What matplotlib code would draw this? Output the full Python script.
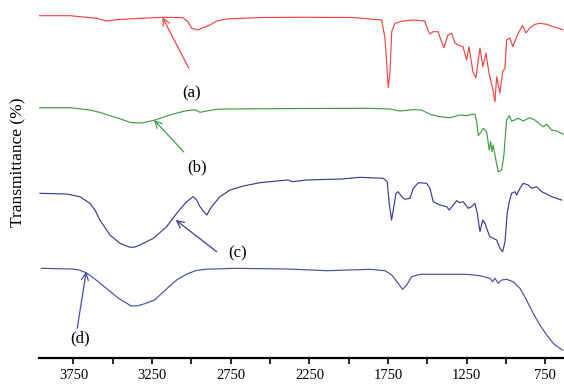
import matplotlib
matplotlib.use("Agg")
import matplotlib.pyplot as plt
import numpy as np

# ---- data (wavenumber cm-1, stacked transmittance, arbitrary units)
wn_a = [3967, 3772, 3603, 3539, 3475, 3327, 3181, 3054, 3022, 2999, 2959, 2927, 2882, 2840, 2776,
        2565, 2310, 1973, 1865, 1791, 1770, 1749, 1738, 1727, 1707, 1656, 1592, 1516, 1497, 1484,
        1465, 1433, 1410, 1395, 1370, 1346, 1325, 1306, 1274, 1251, 1236, 1211, 1192, 1166, 1147,
        1128, 1109, 1086, 1071, 1060, 1039, 1022, 1007, 997, 976, 957, 933, 912, 895, 874, 849,
        817, 785, 742, 702, 671, 639]
t_a = [342.3, 342.3, 339.7, 337, 338.3, 339.7, 340.7, 340.3, 336.3, 329.7, 328, 330.3, 333, 337, 339,
       340.5, 340.7, 340.5, 339, 338, 320, 270.3, 286, 326.3, 334.7, 337, 338, 337, 328, 324,
       326.3, 326.3, 316.3, 310.3, 323, 324.7, 315, 313, 311.3, 298, 311.3, 286.3, 280, 310, 291.3,
       305, 285, 270, 256.3, 281.3, 265, 286.3, 290, 318, 320, 311.3, 321.3, 328, 332.3, 325, 330,
       333.7, 334.7, 333.7, 331.3, 330, 328]

wn_b = [3967, 3772, 3645, 3580, 3518, 3450, 3391, 3350, 3306, 3270, 3232, 3185, 3137, 3080, 3031,
        2978, 2946, 2903, 2840, 2768, 2310, 1866, 1738, 1675, 1590, 1537, 1484, 1421, 1357, 1293,
        1251, 1219, 1198, 1187, 1177, 1166, 1145, 1124, 1107, 1098, 1090, 1082, 1065, 1050, 1028,
        1014, 997, 980, 965, 944, 923, 891, 853, 817, 785, 764, 742, 711, 679, 637]
t_b = [250.3, 250.3, 248, 245.5, 242.3, 239, 235.7, 235, 235.3, 236.5, 238, 240.5, 243, 245.5, 247.3,
       248.3, 245.7, 247, 248.7, 249, 249.5, 249.7, 249, 247, 248.3, 248, 243.7, 241.3, 240.3, 243,
       242.3, 243.7, 243.7, 236.3, 222.3, 224.7, 229.7, 226.3, 208, 216.3, 206.3, 213, 198, 186.3, 188,
       203, 238, 242.3, 237, 238, 239.7, 237, 240.3, 238, 233.7, 231.3, 233.7, 228, 227, 223.7]

wn_c = [3963, 3793, 3709, 3645, 3610, 3582, 3518, 3480, 3454, 3391, 3360, 3327, 3243, 3200, 3158,
        3094, 3031, 2989, 2967, 2946, 2903, 2872, 2819, 2755, 2671, 2565, 2388, 2355, 2273, 2045,
        1929, 1781, 1756, 1743, 1728, 1717, 1700, 1686, 1664, 1643, 1611, 1590, 1558, 1505, 1484,
        1463, 1421, 1378, 1361, 1336, 1314, 1293, 1272, 1241, 1219, 1198, 1183, 1166, 1149, 1134,
        1124, 1103, 1082, 1060, 1039, 1022, 1007, 993, 980, 965, 944, 933, 912, 891, 859, 838, 806,
        774, 742, 711, 679, 647]
t_c = [164.7, 164, 161.3, 154.7, 147, 138, 123, 118, 114.7, 110.7, 111, 113, 119.7, 125.5, 131.3,
       144.7, 156.3, 161.3, 158, 151.3, 143, 151.3, 161.3, 168, 172, 175.3, 178, 176.3, 178, 179,
       180.7, 179.7, 176.3, 154.7, 138, 148, 164.7, 166.3, 161.3, 158.7, 159.7, 169.7, 175.3, 174.7, 169.7,
       156.3, 153, 151.3, 148, 153, 157.3, 155.3, 156.3, 149.7, 151.3, 154.7, 144.7, 126.3, 138, 134.7,
       129.7, 121.3, 119.7, 118, 109.7, 106.3, 116.3, 144.7, 156.3, 164.7, 166.3, 163, 169.7, 174.7, 173,
       169.7, 171.3, 166.3, 164, 161.3, 159.7, 158]

wn_d = [3954, 3760, 3715, 3669, 3610, 3554, 3463, 3420, 3383, 3340, 3303, 3234, 3143, 3090, 3029,
        2970, 2914, 2731, 2388, 2137, 1865, 1770, 1727, 1686, 1658, 1632, 1600, 1548, 1441, 1251,
        1166, 1103, 1086, 1071, 1050, 1028, 997, 955, 912, 870, 828, 785, 742, 700, 669, 641]
t_d = [89.7, 89, 88, 85.3, 78.5, 71.3, 59.7, 55.5, 52, 52.3, 54, 58, 71.3, 78.5, 84,
       87.5, 88.7, 89.7, 89, 87.3, 88.7, 87.3, 83, 74.7, 68.7, 73, 81.3, 83.7, 83.7, 83.7,
       82.3, 79.7, 76.3, 79.7, 74.7, 78, 78.7, 76.3, 69.7, 58, 44.7, 33, 23, 14.7, 10.7, 8]

labels = ["(a)", "(b)", "(c)", "(d)"]
# (text x, text y, arrow tail x, tail y, arrow tip x, tip y)
label_pos = [(2997, 265, 3017, 289.7, 3184, 340.7),
             (2966, 190.5, 3048, 206, 3238, 238),
             (2708, 105, 2840, 106.3, 3100, 138),
             (3711, 20, 3726, 29.7, 3669, 86.3)]
colors = ["#f04545", "#3f9c45", "#393c98", "#4a4ea6"]

serif = "Liberation Serif"

fig = plt.figure(figsize=(5.64, 3.86), dpi=100)
ax = fig.add_axes([0.070, 0.0725, 0.930, 0.9275])

for wn, t, c in zip([wn_a, wn_b, wn_c, wn_d], [t_a, t_b, t_c, t_d], colors):
    ax.plot(wn, t, color=c, lw=0.85, solid_joinstyle="round")

for lab, (tx, ty, ax0, ay0, ax1, ay1), c in zip(labels, label_pos, colors):
    ax.text(tx, ty, lab, ha="center", va="center", fontsize=12, family=serif)
    ax.annotate("", xy=(ax1, ay1), xytext=(ax0, ay0),
                arrowprops=dict(arrowstyle="->,head_length=0.5,head_width=0.25",
                                color=c, lw=0.9, shrinkA=0, shrinkB=0))

ax.set_xlim(3966, 632)
ax.set_ylim(0, 358)

for s in ["left", "right", "top"]:
    ax.spines[s].set_visible(False)
ax.spines["bottom"].set_linewidth(1.6)
ax.set_yticks([])
ax.set_xticks([3750, 3250, 2750, 2250, 1750, 1250, 750])
ax.set_xticks([3500, 3000, 2500, 2000, 1500, 1000], minor=True)
ax.tick_params(axis="x", which="both", direction="out", length=4, width=1.2, pad=4)
for lbl in ax.get_xticklabels():
    lbl.set_family(serif)
    lbl.set_fontsize(10.5)

fig.text(18 / 564, 0.58, "Transmittance (%)", rotation=90, ha="center", va="center",
         fontsize=12.5, family=serif)

fig.savefig("out.png", dpi=100)
